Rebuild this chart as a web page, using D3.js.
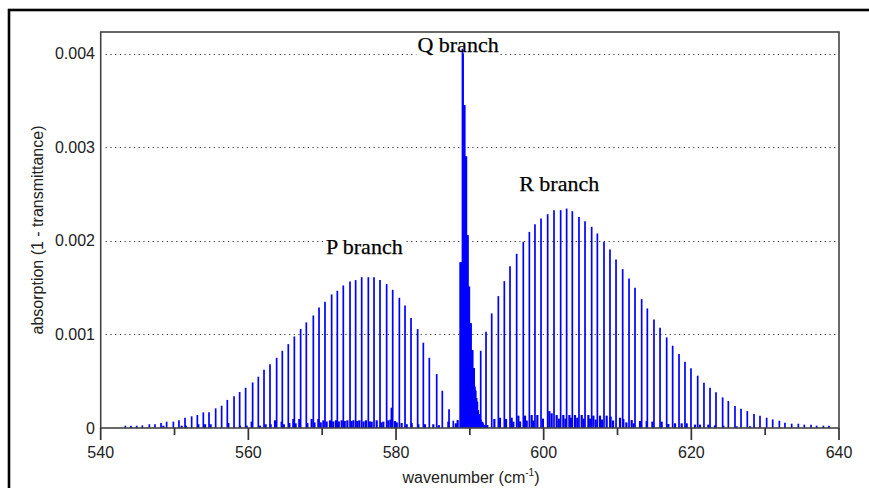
<!DOCTYPE html>
<html>
<head>
<meta charset="utf-8">
<script src="https://cdn.jsdelivr.net/npm/d3@7"></script>
<style>
  html, body { margin: 0; padding: 0; background: #fff; }
  svg { display: block; }
</style>
</head>
<body>
<svg id="chart" width="869" height="488"></svg>
<script>
// Line positions in cm^-1, absorption in units of 1e-3
const pBranch = [
  [543.34,0.025],[544.10,0.025],[544.87,0.025],[545.64,0.028],[546.59,0.040],[547.35,0.040],
  [548.17,0.053],[548.93,0.068],[549.84,0.068],[550.60,0.082],[551.42,0.110],[552.32,0.125],
  [553.09,0.139],[553.90,0.167],[554.67,0.167],[555.57,0.210],[556.38,0.238],[557.15,0.300],
  [558.06,0.340],[558.82,0.384],[559.63,0.430],[560.58,0.487],[561.35,0.548],[562.12,0.623],
  [562.93,0.680],[563.83,0.750],[564.60,0.825],[565.41,0.896],[566.23,0.978],[567.08,1.057],
  [567.85,1.128],[568.80,1.202],[569.57,1.288],[570.38,1.348],[571.28,1.427],[572.05,1.466],
  [572.86,1.523],[573.77,1.565],[574.53,1.580],[575.35,1.611],[576.25,1.611],[577.02,1.611],
  [577.83,1.580],[578.73,1.537],[579.55,1.476],[580.45,1.391],[581.22,1.309],[582.03,1.174],
  [582.93,1.057],[583.70,0.911],[584.51,0.750],[585.51,0.576],[586.27,0.398],[587.18,0.200],
  [587.76,0.078]
];

const qBranch = [
  [588.67,1.77],[588.75,1.77],[588.83,1.77],[588.91,1.77],[588.98,4.05],[589.04,4.03],[589.10,4.00],
  [589.16,3.45],[589.21,3.45],[589.27,3.45],[589.32,3.45],[589.38,2.90],[589.44,2.90],
  [589.50,2.90],[589.55,2.90],[589.61,2.06],[589.66,2.06],[589.71,2.06],[589.75,2.06],
  [589.80,1.51],[589.85,1.51],[589.90,1.51],[589.95,1.51],[590.01,1.12],[590.06,1.12],
  [590.12,1.12],[590.18,1.12],[590.24,0.83],[590.29,0.83],[590.35,0.83],[590.40,0.83],
  [590.46,0.64],[590.52,0.64],[590.56,0.64],[590.60,0.64],[590.65,0.44],[590.70,0.44],
  [590.76,0.40],[590.81,0.40],[590.87,0.32],[590.93,0.32],[590.99,0.28],[591.04,0.28],
  [591.10,0.19],[591.15,0.19],[591.21,0.15],[591.27,0.15],[591.33,0.107],[591.38,0.107],
  [591.45,0.09],[591.51,0.09],[591.58,0.068],[591.65,0.068],[591.72,0.06],[591.78,0.06],
  [591.85,0.04],[591.91,0.03],[591.98,0.03],[592.05,0.03],[592.12,0.02],[592.19,0.02]
];

const rBranch = [
  [591.47,0.825],[592.19,1.028],[592.96,1.224],[593.86,1.409],[594.67,1.569],[595.44,1.729],
  [596.34,1.861],[597.24,1.989],[598.06,2.095],[598.82,2.177],[599.64,2.238],[600.54,2.284],
  [601.40,2.327],[602.30,2.327],[603.11,2.344],[603.88,2.316],[604.78,2.255],[605.60,2.209],
  [606.50,2.149],[607.27,2.078],[608.17,1.989],[608.98,1.907],[609.80,1.800],[610.70,1.697],
  [611.56,1.597],[612.37,1.498],[613.27,1.377],[614.04,1.277],[614.94,1.160],[615.76,1.071],
  [616.66,0.968],[617.47,0.879],[618.33,0.790],[619.14,0.708],[619.95,0.637],[620.86,0.559],
  [621.71,0.484],[622.53,0.430],[623.34,0.381],[624.24,0.327],[625.01,0.288],[625.91,0.235],
  [626.73,0.206],[627.58,0.181],[628.49,0.149],[629.30,0.132],[630.20,0.110],[631.02,0.092],
  [631.92,0.078],[632.68,0.057],[633.59,0.046],[634.49,0.046],[635.30,0.036],[636.21,0.036],
  [636.97,0.025],[637.88,0.025],[638.64,0.025]
];

// Weak hot-band lines underneath the main bands
const weakLines = [
  [548.48,0.025],[550.97,0.025],[551.55,0.025],[553.22,0.040],[554.13,0.040],[554.89,0.040],
  [557.29,0.053],[558.87,0.025],[559.77,0.025],[560.45,0.068],[561.58,0.025],[562.34,0.040],
  [563.02,0.040],[563.61,0.082],[564.51,0.068],[564.80,0.040],[565.55,0.053],[566.09,0.096],
  [566.40,0.050],[566.90,0.096],[567.99,0.053],[568.57,0.096],[568.95,0.060],[569.48,0.096],
  [569.80,0.060],[570.16,0.082],[570.60,0.070],[571.06,0.082],[571.50,0.070],[571.87,0.082],
  [572.25,0.070],[572.64,0.082],[573.05,0.075],[573.41,0.082],[573.95,0.075],[574.22,0.082],
  [574.75,0.075],[575.03,0.082],[575.60,0.070],[575.93,0.082],[576.45,0.070],[576.70,0.068],
  [577.38,0.082],[578.00,0.060],[578.28,0.068],[578.96,0.082],[579.25,0.090],[579.41,0.217],
  [579.86,0.075],[580.10,0.060],[580.76,0.053],[581.45,0.040],[582.12,0.053],[583.02,0.040],
  [583.92,0.040],[585.05,0.040],[585.80,0.030],[587.09,0.068],[588.10,0.050],[588.35,0.085],
  [592.37,0.032],[593.32,0.096],[594.08,0.110],[594.90,0.096],[595.66,0.110],[595.89,0.068],
  [596.57,0.132],[596.80,0.070],[597.47,0.132],[597.70,0.080],[598.37,0.139],[598.60,0.080],
  [599.14,0.139],[599.90,0.100],[600.77,0.181],[601.08,0.157],[601.76,0.139],[602.05,0.100],
  [602.66,0.139],[602.95,0.100],[603.48,0.139],[603.70,0.110],[604.24,0.139],[604.55,0.110],
  [605.15,0.139],[605.40,0.100],[606.05,0.139],[606.30,0.100],[606.73,0.132],[607.05,0.090],
  [607.63,0.132],[607.90,0.090],[608.53,0.132],[609.07,0.121],[609.40,0.080],[610.34,0.110],
  [610.79,0.096],[611.20,0.060],[611.92,0.085],[612.20,0.050],[613.05,0.075],[613.95,0.075],
  [614.72,0.068],[615.98,0.068],[616.88,0.043],[617.79,0.050],[618.69,0.050],[619.37,0.050],
  [620.50,0.036],[621.17,0.036],[622.30,0.036],[623.20,0.028],[624.33,0.025],[626.13,0.018],
  [627.95,0.018]
];

const xTicksMajor = [540, 560, 580, 600, 620, 640];
const xTicksMinor = [550, 570, 590, 610, 630];
const yTicks = [0, 0.001, 0.002, 0.003, 0.004];
const yTickLabels = ["0", "0.001", "0.002", "0.003", "0.004"];

const branchLabels = [
  { text: "Q branch", wn: 588.4, value: 0.00402 },
  { text: "P branch", wn: 575.7, value: 0.00186 },
  { text: "R branch", wn: 602.1, value: 0.00253 }
];

const svg = d3.select("#chart");
const W = 869, H = 488;
const plot = { left: 100.7, right: 839, top: 32, bottom: 428 };

const x = d3.scaleLinear().domain([540, 640]).range([plot.left, plot.right]);
const y = d3.scaleLinear().domain([0, 0.00423]).range([plot.bottom, plot.top]);

svg.append("rect").attr("width", W).attr("height", H).attr("fill", "#fff");

// outer frame
svg.append("rect")
  .attr("x", 9).attr("y", 10).attr("width", 900).attr("height", 520)
  .attr("fill", "none").attr("stroke", "#000").attr("stroke-width", 2.6);

// dotted horizontal grid
svg.append("g").selectAll("line")
  .data(yTicks.filter(v => v > 0))
  .join("line")
  .attr("x1", plot.left + 5).attr("x2", plot.right - 1)
  .attr("y1", d => Math.round(y(d)) + 0.5).attr("y2", d => Math.round(y(d)) + 0.5)
  .attr("stroke", "#333").attr("stroke-width", 1.2)
  .attr("stroke-dasharray", "1.2 3.5");

// branch labels, each on a white backing
const labelFont = "'Liberation Serif', 'Times New Roman', serif";
const labelG = svg.append("g");
const labelTexts = labelG.selectAll("text")
  .data(branchLabels)
  .join("text")
  .attr("x", d => x(d.wn)).attr("y", d => y(d.value))
  .attr("text-anchor", "middle")
  .attr("font-family", labelFont).attr("font-size", 22)
  .attr("fill", "#000")
  .attr("stroke", "#000").attr("stroke-width", 0.25)
  .text(d => d.text);

const bgG = svg.insert("g", () => labelG.node());
labelTexts.each(function () {
  const b = this.getBBox();
  bgG.append("rect")
    .attr("x", b.x - 1).attr("y", b.y + 3)
    .attr("width", b.width + 2).attr("height", b.height - 4)
    .attr("fill", "#fff");
});

// spectrum sticks
const specG = svg.insert("g", () => labelG.node());
function sticks(data, width, color) {
  specG.append("g").selectAll("line")
    .data(data)
    .join("line")
    .attr("x1", d => x(d[0])).attr("x2", d => x(d[0]))
    .attr("y1", y(0)).attr("y2", d => y(d[1] * 1e-3))
    .attr("stroke", color).attr("stroke-width", width);
}
sticks(weakLines, 2.2, "#0000e6");
sticks(pBranch, 1.7, "#0000ff");
sticks(rBranch, 1.7, "#0000ff");
sticks(qBranch, 1.4, "#0000ff");

// plot frame
svg.append("rect")
  .attr("x", plot.left).attr("y", plot.top)
  .attr("width", plot.right - plot.left).attr("height", plot.bottom - plot.top)
  .attr("fill", "none").attr("stroke", "#444").attr("stroke-width", 1.6);

// x axis ticks
const axisG = svg.append("g");
axisG.selectAll("line.major")
  .data(xTicksMajor).join("line")
  .attr("x1", d => x(d)).attr("x2", d => x(d))
  .attr("y1", plot.bottom).attr("y2", plot.bottom + 12)
  .attr("stroke", "#333").attr("stroke-width", 1.7);
axisG.selectAll("line.minor")
  .data(xTicksMinor).join("line")
  .attr("x1", d => x(d)).attr("x2", d => x(d))
  .attr("y1", plot.bottom).attr("y2", plot.bottom + 7)
  .attr("stroke", "#333").attr("stroke-width", 1.7);

const tickFont = "'Liberation Sans', Arial, Helvetica, sans-serif";
axisG.selectAll("text.x")
  .data(xTicksMajor).join("text")
  .attr("x", d => x(d)).attr("y", 458)
  .attr("text-anchor", "middle")
  .attr("font-family", tickFont).attr("font-size", 16).attr("fill", "#222")
  .text(d => d);

axisG.selectAll("text.y")
  .data(yTicks).join("text")
  .attr("x", 95).attr("y", d => y(d) + 5.5)
  .attr("text-anchor", "end")
  .attr("font-family", tickFont).attr("font-size", 16).attr("fill", "#222")
  .text((d, i) => yTickLabels[i]);

// axis titles
const xt = svg.append("text")
  .attr("x", 471).attr("y", 483)
  .attr("text-anchor", "middle")
  .attr("font-family", tickFont).attr("font-size", 16).attr("fill", "#222");
xt.append("tspan").text("wavenumber (cm");
xt.append("tspan").attr("dy", -7).attr("font-size", 10).text("-1");
xt.append("tspan").attr("dy", 7).text(")");

svg.append("text")
  .attr("transform", "translate(43,230) rotate(-90)")
  .attr("text-anchor", "middle")
  .attr("font-family", tickFont).attr("font-size", 16).attr("fill", "#222")
  .text("absorption (1 - transmittance)");
</script>
</body>
</html>
